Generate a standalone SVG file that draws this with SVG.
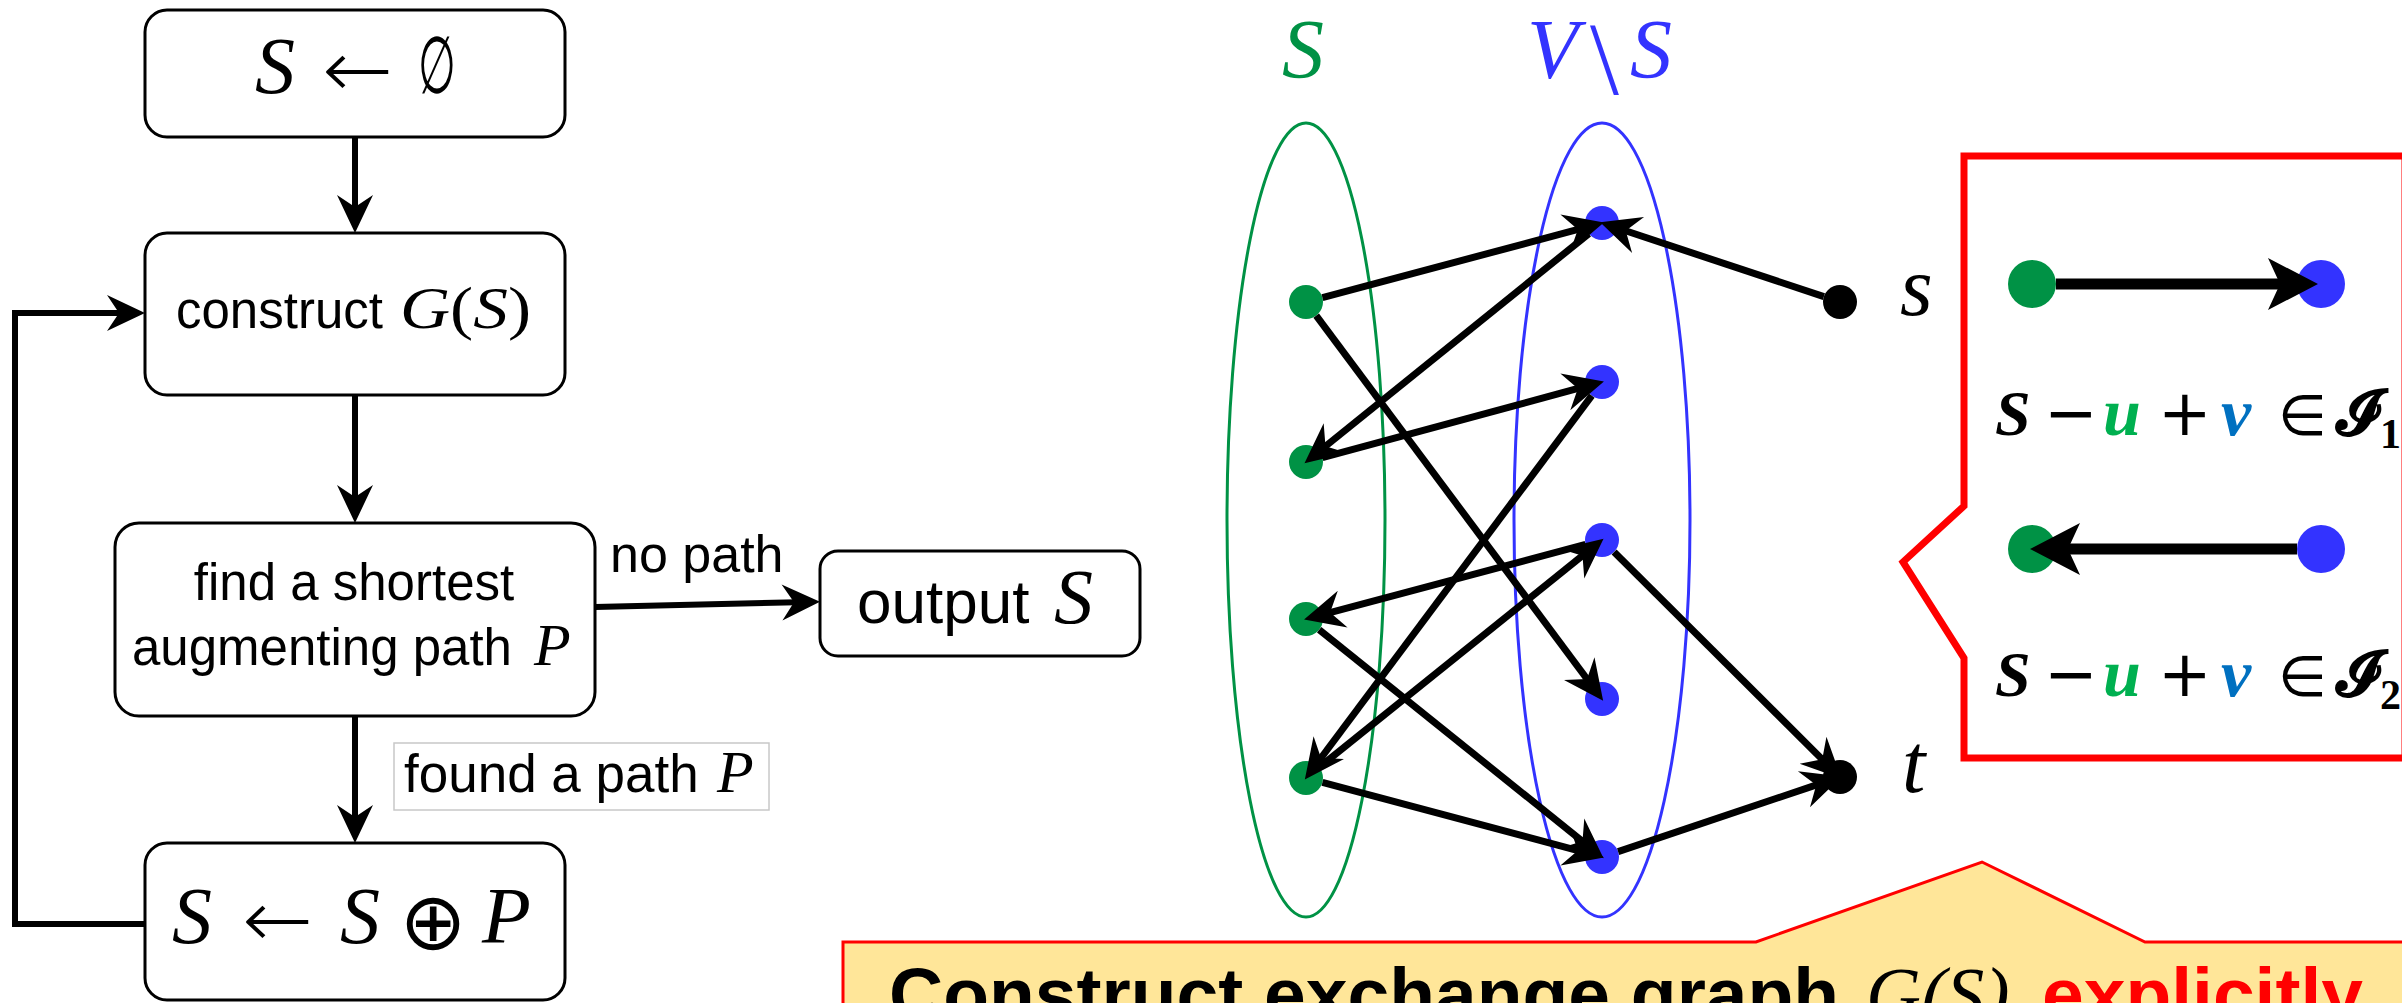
<svg xmlns="http://www.w3.org/2000/svg" width="2402" height="1003" viewBox="0 0 2402 1003">
<defs>
<style>
.box{fill:#fff;stroke:#000;stroke-width:3}
.conn{fill:none;stroke:#000;stroke-width:6}
.sans{font-family:"Liberation Sans",Arial,sans-serif;fill:#000}
.math{font-family:"Liberation Serif","DejaVu Serif",serif;font-style:italic;fill:#000}
.up{font-style:normal}
.op{font-family:"DejaVu Sans","Liberation Sans",sans-serif;font-style:normal;font-weight:normal;fill:#000}
.arr{font-family:"DejaVu Sans","Liberation Sans",sans-serif;font-weight:200;fill:#000}
.edge{fill:none;stroke:#000;stroke-width:7}
.gn{fill:#009245}
.bn{fill:#3333ff}
.kn{fill:#000}
.cm{font-family:"Liberation Serif","DejaVu Serif",serif;font-weight:bold;font-size:64px;fill:#000}
</style>
<marker id="fa" markerUnits="userSpaceOnUse" viewBox="0 0 52 40" markerWidth="52" markerHeight="40" refX="38" refY="20" orient="auto"><path d="M50,20 L12,2 L24,20 L12,38 Z" fill="#000"/></marker>
<marker id="ga" markerUnits="userSpaceOnUse" viewBox="0 0 44 44" markerWidth="44" markerHeight="44" refX="20" refY="22" orient="auto"><path d="M42,22 L2,3 L15,22 L2,41 Z" fill="#000"/></marker>
<marker id="ca" markerUnits="userSpaceOnUse" viewBox="0 0 56 56" markerWidth="56" markerHeight="56" refX="34" refY="28" orient="auto"><path d="M54,28 L4,2 L16,28 L4,54 Z" fill="#000"/></marker>
</defs>
<rect width="2402" height="1003" fill="#fff"/>

<!-- Flowchart nodes -->
<g id="init">
<rect class="box" x="145" y="10" width="420" height="127" rx="22"/>
<text class="math" font-size="80" x="255" y="93">S</text>
<text class="arr" font-size="80" x="322" y="97" textLength="71" lengthAdjust="spacingAndGlyphs">←</text>
<text class="math up" font-size="80" x="418" y="93" textLength="38" lengthAdjust="spacingAndGlyphs">∅</text>
</g>
<g id="construct">
<rect class="box" x="145" y="233" width="420" height="162" rx="22"/>
<text class="sans" font-size="51" x="176" y="328">construct</text>
<text class="math" font-size="60" x="400" y="328" textLength="131" lengthAdjust="spacingAndGlyphs">G<tspan class="up">(</tspan>S<tspan class="up">)</tspan></text>
</g>
<g id="find">
<rect class="box" x="115" y="523" width="480" height="193" rx="24"/>
<text class="sans" font-size="51" x="354" y="600" text-anchor="middle">find a shortest</text>
<text class="sans" font-size="51" x="132" y="665">augmenting path</text>
<text class="math" font-size="60" x="534" y="665">P</text>
</g>
<g id="output">
<rect class="box" x="820" y="551" width="320" height="105" rx="18"/>
<text class="sans" font-size="62" x="857" y="623">output</text>
<text class="math" font-size="78" x="1054" y="623">S</text>
</g>
<g id="update">
<rect class="box" x="145" y="843" width="420" height="157" rx="22"/>
<text class="math" font-size="80" x="172" y="943">S</text>
<text class="arr" font-size="80" x="242" y="947" textLength="71" lengthAdjust="spacingAndGlyphs">←</text>
<text class="math" font-size="80" x="340" y="943">S</text>
<text class="op" font-size="80" x="433" y="949" text-anchor="middle">⊕</text>
<text class="math" font-size="80" x="482" y="943">P</text>
</g>

<!-- Flowchart connectors -->
<g id="flow-connectors">
<line class="conn" x1="355" y1="137" x2="355" y2="221" marker-end="url(#fa)"/>
<line class="conn" x1="355" y1="395" x2="355" y2="511" marker-end="url(#fa)"/>
<line class="conn" x1="355" y1="716" x2="355" y2="831" marker-end="url(#fa)"/>
<line class="conn" x1="595" y1="607" x2="808" y2="602" marker-end="url(#fa)"/>
<polyline class="conn" points="145,924 15,924 15,313 133,313" marker-end="url(#fa)"/>
<text class="sans" font-size="52" x="610" y="572">no path</text>
<g id="found-label">
<rect x="394" y="743" width="375" height="67" fill="#fff" stroke="#c8c8c8" stroke-width="1.5"/>
<text class="sans" font-size="53" x="404" y="792">found a path</text>
<text class="math" font-size="60" x="717" y="792">P</text>
</g>
</g>

<!-- Exchange graph -->
<g id="set-S">
<ellipse cx="1306" cy="520" rx="79" ry="397" fill="none" stroke="#009245" stroke-width="3"/>
<text class="math" font-size="84" x="1282" y="78" style="fill:#009245">S</text>
</g>
<g id="set-VS">
<ellipse cx="1602" cy="520" rx="88" ry="397" fill="none" stroke="#3333ff" stroke-width="3"/>
<text class="math" font-size="84" x="1527" y="78" style="fill:#3333ff">V<tspan class="up" x="1590" font-size="104" dy="16">\</tspan><tspan x="1630" font-size="84" dy="-16">S</tspan></text>
</g>
<g id="graph-nodes">
<circle id="g1" class="gn" cx="1306" cy="302" r="17"/>
<circle id="g2" class="gn" cx="1306" cy="462" r="17"/>
<circle id="g3" class="gn" cx="1306" cy="619" r="17"/>
<circle id="g4" class="gn" cx="1306" cy="778" r="17"/>
<circle id="b1" class="bn" cx="1602" cy="223" r="17"/>
<circle id="b2" class="bn" cx="1602" cy="382" r="17"/>
<circle id="b3" class="bn" cx="1602" cy="540" r="17"/>
<circle id="b4" class="bn" cx="1602" cy="699" r="17"/>
<circle id="b5" class="bn" cx="1602" cy="857" r="17"/>
<g id="node-s"><circle class="kn" cx="1840" cy="302" r="17"/><text class="math" font-size="84" x="1900" y="315">s</text></g>
<g id="node-t"><circle class="kn" cx="1840" cy="777" r="17"/><text class="math" font-size="84" x="1902" y="792">t</text></g>
</g>
<g id="graph-edges">
<line class="edge" x1="1322.4" y1="297.6" x2="1582.7" y2="228.2" marker-end="url(#ga)"/>
<line class="edge" x1="1823.9" y1="296.6" x2="1621.0" y2="229.3" marker-end="url(#ga)"/>
<line class="edge" x1="1588.8" y1="233.7" x2="1321.6" y2="449.4" marker-end="url(#ga)"/>
<line class="edge" x1="1316.2" y1="315.6" x2="1590.0" y2="683.0" marker-end="url(#ga)"/>
<line class="edge" x1="1322.4" y1="457.6" x2="1582.7" y2="387.2" marker-end="url(#ga)"/>
<line class="edge" x1="1591.8" y1="395.6" x2="1318.0" y2="762.0" marker-end="url(#ga)"/>
<line class="edge" x1="1585.6" y1="544.4" x2="1325.3" y2="613.8" marker-end="url(#ga)"/>
<line class="edge" x1="1319.2" y1="767.3" x2="1586.4" y2="552.5" marker-end="url(#ga)"/>
<line class="edge" x1="1614.1" y1="552.0" x2="1825.8" y2="762.9" marker-end="url(#ga)"/>
<line class="edge" x1="1319.2" y1="629.7" x2="1586.4" y2="844.5" marker-end="url(#ga)"/>
<line class="edge" x1="1322.4" y1="782.4" x2="1582.7" y2="851.8" marker-end="url(#ga)"/>
<line class="edge" x1="1618.1" y1="851.6" x2="1821.0" y2="783.4" marker-end="url(#ga)"/>
</g>

<!-- Right callout -->
<g id="legend-callout">
<polygon points="1964,156 2405,156 2405,758 1964,758 1964,658 1903,562 1964,506" fill="#fff" stroke="#ff0000" stroke-width="7"/>
<circle class="gn" cx="2032" cy="284" r="24"/>
<circle class="bn" cx="2321" cy="284" r="24"/>
<line x1="2056" y1="284" x2="2298" y2="284" stroke="#000" stroke-width="11" marker-end="url(#ca)"/>
<circle class="gn" cx="2032" cy="549" r="24"/>
<circle class="bn" cx="2321" cy="549" r="24"/>
<line x1="2297" y1="549" x2="2050" y2="549" stroke="#000" stroke-width="11" marker-end="url(#ca)"/>
<text class="cm" y="435"><tspan x="1995" font-style="italic">S</tspan><tspan class="op" x="2044" font-size="64">−</tspan><tspan x="2103" font-style="italic" font-size="68" fill="#00b050">u</tspan><tspan class="op" x="2158" font-size="64">+</tspan><tspan x="2221" font-style="italic" font-size="68" fill="#0070c0">v</tspan><tspan class="op" x="2278" font-size="56">∈</tspan><tspan x="2336">𝓘</tspan><tspan x="2380" dy="13" font-size="42">1</tspan></text>
<text class="cm" y="696"><tspan x="1995" font-style="italic">S</tspan><tspan class="op" x="2044" font-size="64">−</tspan><tspan x="2103" font-style="italic" font-size="68" fill="#00b050">u</tspan><tspan class="op" x="2158" font-size="64">+</tspan><tspan x="2221" font-style="italic" font-size="68" fill="#0070c0">v</tspan><tspan class="op" x="2278" font-size="56">∈</tspan><tspan x="2336">𝓘</tspan><tspan x="2380" dy="13" font-size="42">2</tspan></text>
</g>

<!-- Bottom callout -->
<g id="note-callout">
<polygon points="843,942 1756,942 1982,862 2145,942 2410,942 2410,1012 843,1012" fill="#ffe699" stroke="#ff0000" stroke-width="3"/>
<text class="sans" font-weight="bold" font-size="75" x="889" y="1020">Construct exchange graph</text>
<text class="math" font-size="76" x="1866" y="1020">G(S)</text>
<text class="sans" font-weight="bold" font-size="75" x="2042" y="1020" style="fill:#ff0000">explicitly</text>
</g>
</svg>
